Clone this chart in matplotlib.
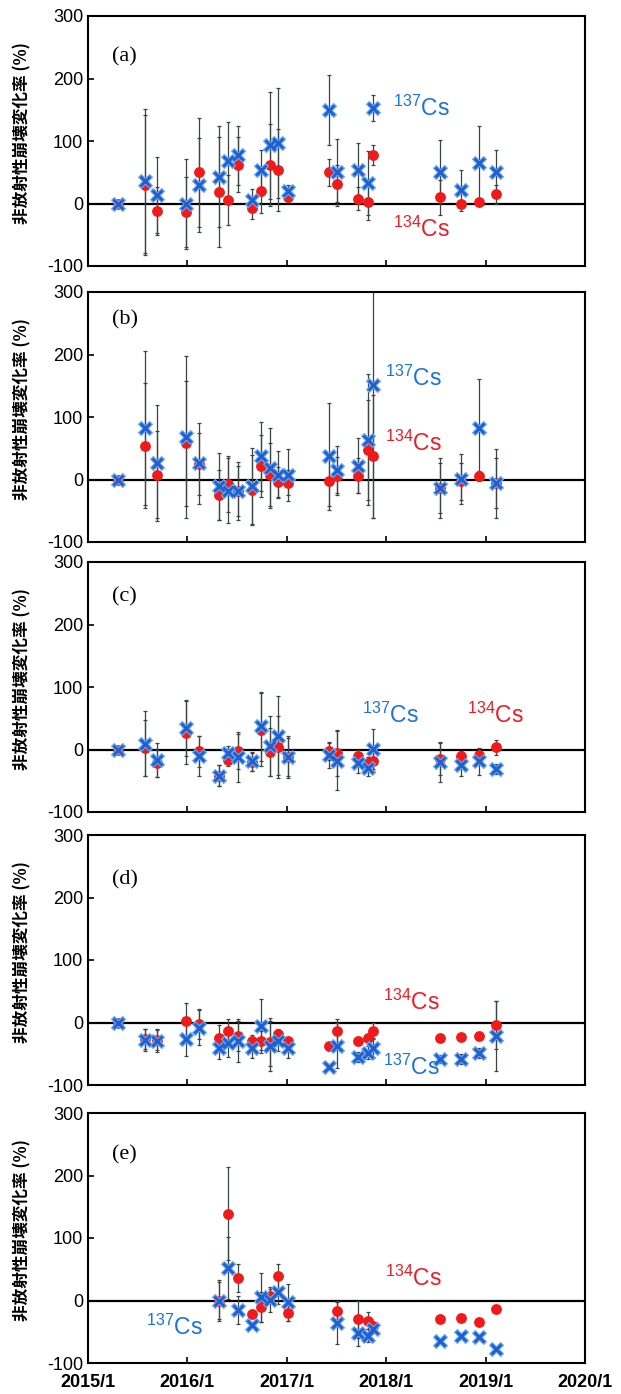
import matplotlib
matplotlib.use("Agg")
import matplotlib.pyplot as plt
import pandas as pd

plt.rcParams['font.family'] = ['Liberation Sans', 'DejaVu Sans']
plt.rcParams['mathtext.fontset'] = 'custom'
plt.rcParams['mathtext.rm'] = 'Liberation Sans'

# sampling dates
dates = ["2015-04-20", "2015-07-31", "2015-09-13", "2015-12-26", "2016-02-14", "2016-04-27",
         "2016-05-30", "2016-07-05", "2016-08-25", "2016-09-27", "2016-10-30", "2016-11-28",
         "2017-01-04", "2017-06-03", "2017-07-02", "2017-09-20", "2017-10-26", "2017-11-13",
         "2018-07-19", "2018-10-04", "2018-12-08", "2019-02-09"]
dates_e = dates[5:13] + dates[14:]

# (a)
cs137_a = [0, 36, 14, 0, 30, 43, 68, 77, 5, 53, 93, 97, 20, 149, 50, 54, 33, 153, 51, 21, 65, 51]
err137_a = [0, 115, 61, 72, 75, 81, 62, 47, 18, 32, 85, 88, 10, 56, 54, 43, 51, 21, 50, 33, 59, 35]
cs134_a = [0, 30, -12, -14, 50, 19, 5, 62, -7, 20, 62, 54, 11, 50, 32, 8, 2, 78, 10, 0, 3, 15]
err134_a = [0, 112, 38, 56, 87, 88, 40, 44, 18, 35, 66, 66, 8, 22, 29, 19, 29, 16, 28, 5, 5, 15]
# (b)
cs137_b = [0, 83, 27, 68, 26, -11, -18, -18, -11, 37, 19, 8, 7, 37, 16, 22, 64, 152, -13, 1, 82, -6]
err137_b = [0, 123, 93, 130, 65, 54, 52, 46, 62, 55, 64, 38, 42, 85, 37, 44, 105, 213, 48, 40, 79, 55]
cs134_b = [0, 54, 8, 58, 25, -24, -7, -18, -16, 22, 8, -4, -5, -3, 6, 6, 48, 37, -14, -3, 6, -6]
err134_b = [0, 100, 69, 100, 50, 40, 45, 40, 55, 50, 50, 24, 20, 40, 30, 28, 80, 98, 40, 30, 8, 40]
# (c)
cs137_c = [0, 9, -17, 35, -11, -42, -5, -12, -19, 37, 6, 22, -12, -9, -18, -22, -30, 1, -20, -24, -19, -31]
err137_c = [0, 52, 27, 45, 32, 17, 10, 40, 15, 55, 48, 63, 34, 21, 47, 16, 13, 32, 32, 18, 21, 8]
cs134_c = [0, 2, -22, 27, -3, -42, -16, -3, -20, 32, -4, 4, -12, -3, -6, -11, -22, -18, -15, -11, -8, 4]
err134_c = [0, 45, 22, 50, 25, 17, 10, 28, 15, 58, 38, 49, 30, 14, 37, 11, 10, 16, 25, 8, 8, 12]
# (d)
cs137_d = [0, -28, -29, -27, -8, -40, -33, -29, -40, -6, -37, -29, -40, -71, -37, -55, -48, -41, -58, -58, -49, -22]
err137_d = [0, 18, 18, 27, 28, 18, 22, 34, 17, 43, 40, 16, 16, 4, 36, 8, 10, 16, 6, 8, 8, 56]
cs134_d = [0, -27, -28, 2, -2, -25, -14, -21, -30, -29, -31, -19, -30, -37, -14, -30, -25, -13, -25, -23, -21, -4]
err134_d = [0, 16, 16, 29, 24, 21, 19, 24, 10, 15, 39, 9, 6, 4, 19, 5, 5, 13, 3, 3, 3, 39]
# (e)
cs137_e = [0, 52, -15, -39, 5, 1, 14, -3, -36, -52, -56, -46, -65, -56, -59, -77]
err137_e = [33, 49, 22, 3, 39, 20, 20, 30, 34, 21, 10, 6, 0, 0, 0, 0]
cs134_e = [0, 139, 36, -21, -11, 8, 39, -20, -17, -30, -32, -40, -29, -28, -34, -13]
err134_e = [30, 74, 22, 3, 24, 10, 20, 12, 17, 30, 13, 5, 0, 0, 0, 0]

xticks = ["2015-01-01", "2016-01-01", "2017-01-01", "2018-01-01", "2019-01-01", "2020-01-01"]
xticklabels = ["2015/1", "2016/1", "2017/1", "2018/1", "2019/1", "2020/1"]
yticks = [-100, 0, 100, 200, 300]

panels = [
    ("(a)", dates, cs137_a, err137_a, cs134_a, err134_a, (0.614, 0.63), (0.614, 0.148), 0.836),
    ("(b)", dates, cs137_b, err137_b, cs134_b, err134_b, (0.598, 0.655), (0.598, 0.395), 0.888),
    ("(c)", dates, cs137_c, err137_c, cs134_c, err134_c, (0.551, 0.385), (0.763, 0.385), 0.86),
    ("(d)", dates, cs137_d, err137_d, cs134_d, err134_d, (0.594, 0.07), (0.594, 0.33), 0.82),
    ("(e)", dates_e, cs137_e, err137_e, cs134_e, err134_e, (0.117, 0.143), (0.598, 0.338), 0.832),
]

W, H = 621, 1394
fig = plt.figure(figsize=(W / 100, H / 100), dpi=100)
tops = [16, 292, 562, 835, 1113]
left, right, ph = 88, 585, 250

blue = '#1f5fd0'
blue_light = '#6aa8f0'
red = '#f01a1a'
ecol = '#3a4643'

for (lab, d, c137, e137, c134, e134, p137, p134, laby), top in zip(panels, tops):
    ax = fig.add_axes([left / W, 1 - (top + ph) / H, (right - left) / W, ph / H])
    x = pd.to_datetime(d)
    ax.axhline(0, color='black', lw=1.6, zorder=1)
    ax.errorbar(x, c137, yerr=e137, fmt='none', ecolor=ecol, elinewidth=0.9, capsize=1.6, capthick=0.9, zorder=2)
    ax.errorbar(x, c134, yerr=e134, fmt='none', ecolor=ecol, elinewidth=0.9, capsize=1.6, capthick=0.9, zorder=2)
    ax.plot(x, c134, 'o', color=red, ms=7.8, mec='none', zorder=3)
    ax.plot(x, c137, 'x', color=blue_light, ms=8.2, mew=3.6, zorder=4)
    ax.plot(x, c137, 'x', color=blue, ms=7.6, mew=2.0, zorder=5)

    ax.set_xlim(pd.Timestamp("2015-01-01"), pd.Timestamp("2020-01-01"))
    ax.set_ylim(-100, 300)
    ax.set_yticks(yticks)
    ax.set_yticklabels([str(v) for v in yticks], fontsize=13)
    ax.set_xticks(pd.to_datetime(xticks))
    if lab == "(e)":
        ax.set_xticklabels(xticklabels, fontsize=13, fontweight='bold')
    else:
        ax.set_xticklabels([])
    ax.tick_params(direction='in', length=4, width=1.2)
    ax.tick_params(axis='x', pad=8)
    for s in ax.spines.values():
        s.set_linewidth(1.5)

    ax.text(0.048, laby, lab, transform=ax.transAxes, fontsize=16, family='Liberation Serif',
            ha='left', va='center')
    ax.text(p137[0], p137[1], r"$^{137}$Cs", transform=ax.transAxes, fontsize=16.5,
            color='#1a73d9', ha='left', va='center')
    ax.text(p134[0], p134[1], r"$^{134}$Cs", transform=ax.transAxes, fontsize=16.5,
            color='#ee1c25', ha='left', va='center')

    fig.text(22 / W, 1 - (top + ph * 0.47) / H, "非放射性崩壊変化率 (%)", rotation=90,
             ha='center', va='center', fontsize=12, fontweight='bold',
             family=['Noto Sans CJK JP', 'DejaVu Sans'])

fig.savefig("out.png", dpi=100)
